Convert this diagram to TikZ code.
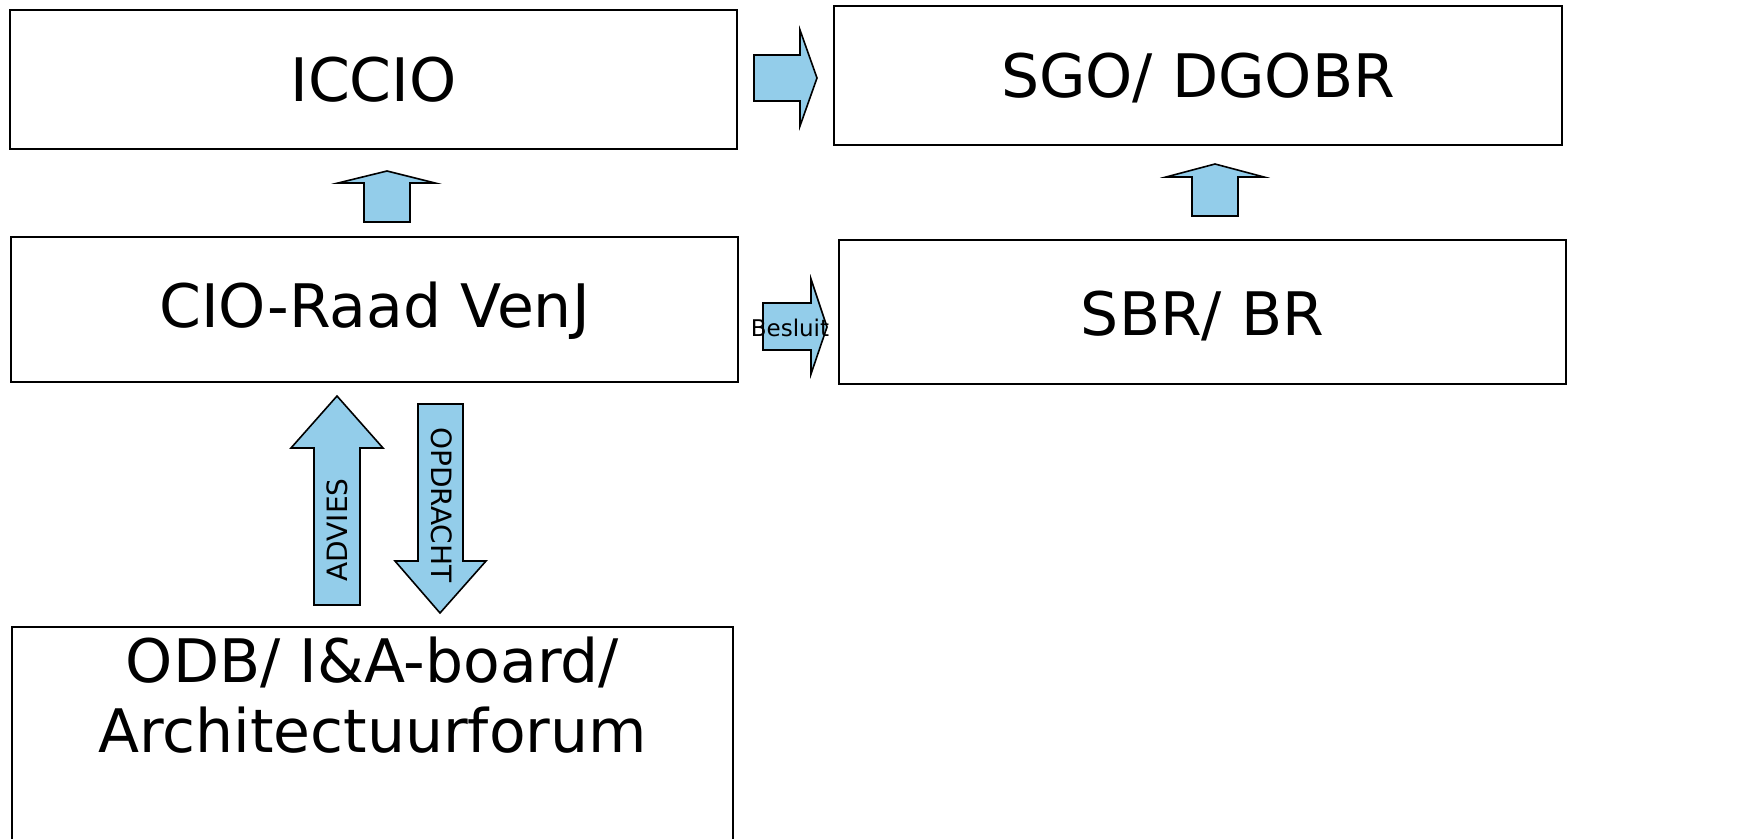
\documentclass[tikz,border=0pt]{standalone}
\usepackage{fontspec}
\setmainfont{DejaVu Sans}
\definecolor{arrowblue}{RGB}{147,205,234}
\begin{document}
\begin{tikzpicture}[x=1pt,y=-1pt,
  box/.style={draw=black,line width=1.6pt,fill=white,inner sep=0pt,align=center},
  blockarrow/.style={draw=black,line width=1.6pt,fill=arrowblue,line join=miter},
  bigtext/.style={font=\fontsize{60}{70}\selectfont},
  arrowtext/.style={font=\fontsize{28}{30}\selectfont,inner sep=0pt}]
\useasboundingbox (0,0) rectangle (1740,839);
% boxes
\draw[box] (10,10) rectangle (737,149);
\node[bigtext] (iccio) at (373.5,80) {ICCIO};
\draw[box] (834,6) rectangle (1562,145);
\node[bigtext] (sgo) at (1198,78) {SGO/ DGOBR};
\draw[box] (11,237) rectangle (738,382);
\node[bigtext] (cio) at (374.5,311) {CIO-Raad VenJ};
\draw[box] (839,240) rectangle (1566,384);
\node[bigtext] (sbr) at (1202.5,316) {SBR/ BR};
\draw[line width=1.6pt] (12,839) -- (12,627) -- (733,627) -- (733,839);
\node[bigtext,align=center] (odb) at (372.5,695) {ODB/ I\&A-board/\\Architectuurforum};
% right arrow top
\draw[blockarrow] (754,55) -- (800,55) -- (800,30) -- (817,78) -- (800,126) -- (800,101) -- (754,101) -- cycle;
% up arrow left small
\draw[blockarrow] (364,222) -- (364,183) -- (338,183) -- (387,171) -- (435,183) -- (410,183) -- (410,222) -- cycle;
% up arrow right small
\draw[blockarrow] (1192,216) -- (1192,177) -- (1166,177) -- (1215,164) -- (1264,177) -- (1238,177) -- (1238,216) -- cycle;
% besluit arrow
\draw[blockarrow] (763,303) -- (811,303) -- (811,279) -- (827,327) -- (811,374) -- (811,350) -- (763,350) -- cycle;
\node[font=\fontsize{23}{25}\selectfont,inner sep=0pt] (besluit) at (790,328) {Besluit};
% advies arrow
\draw[blockarrow] (314,605) -- (314,448) -- (291,448) -- (337,396) -- (383,448) -- (360,448) -- (360,605) -- cycle;
\node[arrowtext,rotate=90] (advies) at (337,530) {ADVIES};
% opdracht arrow
\draw[blockarrow] (418,404) -- (463,404) -- (463,561) -- (486,561) -- (440,613) -- (395,561) -- (418,561) -- cycle;
\node[arrowtext,rotate=-90] (opdracht) at (442,505) {OPDRACHT};
\end{tikzpicture}
\end{document}
